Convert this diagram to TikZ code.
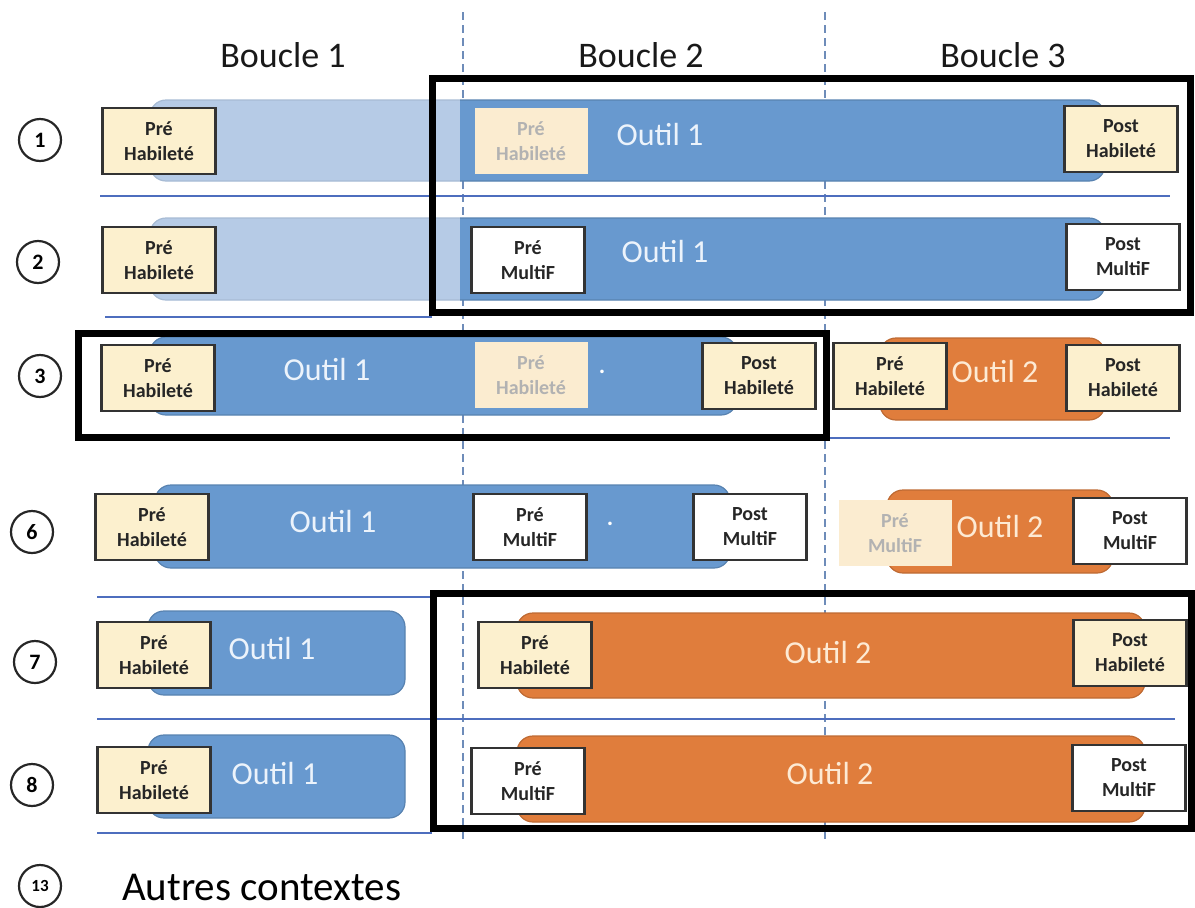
\documentclass[tikz,border=0pt]{standalone}
\usepackage{fontspec}
\setmainfont{Carlito}
\usetikzlibrary{positioning}
\definecolor{bandblue}{RGB}{104,153,207}
\definecolor{bandpale}{RGB}{182,203,230}
\definecolor{bandorange}{RGB}{224,125,60}
\definecolor{cream}{RGB}{252,240,206}
\definecolor{ghostcream}{RGB}{251,236,208}
\definecolor{sepblue}{RGB}{78,110,190}
\definecolor{dashblue}{RGB}{110,140,185}
\definecolor{toolblue}{RGB}{236,243,251}
\definecolor{toolorange}{RGB}{253,234,212}

\begin{document}
\begin{tikzpicture}[
  x=1pt,y=-1pt,
  band/.style={rounded corners=16pt, line width=1.2pt},
  bluebar/.style={band, fill=bandblue, draw=bandblue!85!black},
  palebar/.style={band, fill=bandpale, draw=bandpale!92!black},
  orangebar/.style={band, fill=bandorange, draw=bandorange!85!black},
  tag/.style={
    draw=black!80,
    line width=2.4pt,
    minimum width=113pt,
    minimum height=66pt,
    inner sep=0pt,
    align=center,
    font=\fontsize{20}{25}\selectfont\bfseries,
    text=black!85
    },
  habtag/.style={tag, fill=cream},
  multag/.style={tag, fill=white},
  ghosttag/.style={tag, draw=none, fill=ghostcream, text=black!30},
  tool/.style={font=\fontsize{32}{36}\selectfont, text=#1},
  head/.style={font=\fontsize{36}{40}\selectfont, text=black!90},
  frame/.style={draw=black, line width=7pt},
  sep/.style={draw=sepblue, line width=1.6pt},
  loopline/.style={draw=dashblue, line width=1.3pt, dash pattern=on 8pt off 5pt},
  num/.style={
    circle,
    draw=black!85,
    line width=2.2pt,
    minimum size=42pt,
    inner sep=0pt,
    font=\fontsize{22}{22}\selectfont\bfseries
    }
]
\useasboundingbox (0,0) rectangle (1195,908);

\foreach \x/\n in {283/1,641/2,1003/3}
  \node[head] (boucle\n) at (\x,55) {Boucle \n};

\draw[loopline] (463,12) -- (463,842);
\draw[loopline] (825,12) -- (825,842);

\draw[sep] (100,196) -- (1170,196);
\draw[sep] (105,317) -- (432,317);
\draw[sep] (828,438) -- (1170,438);
\draw[sep] (97,597) -- (432,597);
\draw[sep] (97,719) -- (1175,719);
\draw[sep] (97,833) -- (432,833);

\foreach \yt/\yb in {100/181,218/300}{
  \begin{scope}
    \clip (0,\yt-5) rectangle (460,\yb+5);
    \draw[palebar] (150,\yt) rectangle (1105,\yb);
  \end{scope}
  \begin{scope}
    \clip (460,\yt-5) rectangle (1195,\yb+5);
    \draw[bluebar] (150,\yt) rectangle (1105,\yb);
  \end{scope}
}
\draw[bluebar] (150,337) rectangle (737,415);
\draw[orangebar] (880,338) rectangle (1105,420);
\draw[bluebar] (155,485) rectangle (730,568);
\draw[orangebar] (887,490) rectangle (1113,573);
\draw[bluebar] (148,611) rectangle (405,695);
\draw[orangebar] (517,613) rectangle (1145,698);
\draw[bluebar] (148,735) rectangle (405,818);
\draw[orangebar] (517,736) rectangle (1145,822);

\foreach \n/\x/\y in {1/40/140,2/38/262,3/40/376,6/32/532,7/35/662,8/32/785}
  \node[num] (num\n) at (\x,\y) {\n};
\node[num, font=\fontsize{17}{17}\selectfont\bfseries] (num13) at (40,886) {13};
\node[font=\fontsize{41}{44}\selectfont, anchor=base west, inner sep=0pt] (autres) at (122,900) {Autres contextes};

\node[habtag] (r1pre) at (159,141) {Pré\\Habileté};
\node[ghosttag] (r1ghost) at (531,141) {Pré\\Habileté};
\node[tool=toolblue] (r1tool) at (660,135) {Outil 1};
\node[habtag] (r1post) at (1121,139) {Post\\Habileté};

\node[habtag] (r2pre) at (159,260) {Pré\\Habileté};
\node[multag] (r2multi) at (528,260) {Pré\\MultiF};
\node[tool=toolblue] (r2tool) at (665,252) {Outil 1};
\node[multag] (r2post) at (1123,257) {Post\\MultiF};

\node[habtag] (r3pre) at (158,378) {Pré\\Habileté};
\node[tool=toolblue] (r3tool) at (327,370) {Outil 1};
\node[ghosttag] (r3ghost) at (531,375) {Pré\\Habileté};
\node[tool=white, font=\fontsize{24}{24}\selectfont\bfseries] (r3dot) at (602,372) {.};
\node[habtag] (r3post) at (759,376) {Post\\Habileté};
\node[habtag] (r3prebis) at (890,376) {Pré\\Habileté};
\node[tool=toolorange] (r3toolbis) at (995,372) {Outil 2};
\node[habtag] (r3postbis) at (1123,378) {Post\\Habileté};

\node[habtag] (r6pre) at (152,527) {Pré\\Habileté};
\node[tool=toolblue] (r6tool) at (333,522) {Outil 1};
\node[multag] (r6multi) at (530,527) {Pré\\MultiF};
\node[tool=white, font=\fontsize{24}{24}\selectfont\bfseries] (r6dot) at (610,524) {.};
\node[multag] (r6post) at (750,527) {Post\\MultiF};
\node[ghosttag] (r6ghost) at (895,533) {Pré\\MultiF};
\node[tool=toolorange] (r6toolbis) at (1000,527) {Outil 2};
\node[multag] (r6postbis) at (1130,531) {Post\\MultiF};

\node[habtag] (r7pre) at (154,655) {Pré\\Habileté};
\node[tool=toolblue] (r7tool) at (272,648) {Outil 1};
\node[habtag] (r7prebis) at (535,655) {Pré\\Habileté};
\node[tool=toolorange] (r7toolbis) at (828,652) {Outil 2};
\node[habtag] (r7post) at (1130,653) {Post\\Habileté};

\node[habtag] (r8pre) at (154,780) {Pré\\Habileté};
\node[tool=toolblue] (r8tool) at (275,773) {Outil 1};
\node[multag] (r8multi) at (528,781) {Pré\\MultiF};
\node[tool=toolorange] (r8toolbis) at (830,773) {Outil 2};
\node[multag] (r8post) at (1129,778) {Post\\MultiF};

\draw[frame] (432,78) rectangle (1190,312);
\draw[frame] (78,333) rectangle (826,437);
\draw[frame] (433,593) rectangle (1191,828);

\end{tikzpicture}
\end{document}
